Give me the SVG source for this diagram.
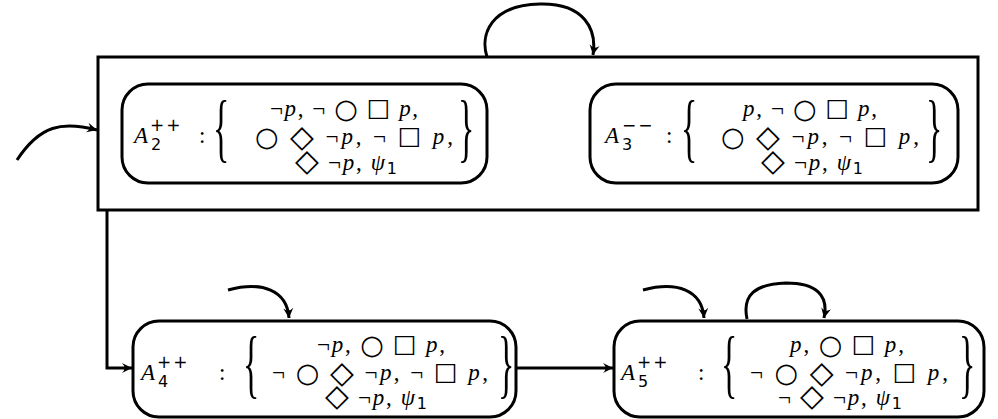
<svg xmlns="http://www.w3.org/2000/svg" width="998" height="419" viewBox="0 0 998 419">
<defs>
<marker id="ah" viewBox="-11 -6 12 12" refX="0" refY="0" markerWidth="12" markerHeight="12" markerUnits="userSpaceOnUse" orient="auto">
<path d="M0,0 L-10,-5 Q-5,0 -10,5 Z" fill="#000"/>
</marker>
<style>
.frame{fill:#fff;stroke:#000;stroke-width:3}
.st{fill:#fff;stroke:#000;stroke-width:3}
.edge{fill:none;stroke:#000;stroke-width:3;marker-end:url(#ah)}
.t{font-family:"Liberation Serif","DejaVu Serif",serif;font-size:23px;fill:#000}
.it{font-style:italic}
.ci{font-family:"DejaVu Sans",sans-serif;font-size:27px}
.sq{font-family:"DejaVu Sans",sans-serif;font-size:25px}
.di{font-family:"DejaVu Sans",sans-serif;font-size:31px}
.ss{font-family:"DejaVu Sans","Liberation Sans",sans-serif;font-size:16px;fill:#000}
.sp{font-family:"DejaVu Sans","Liberation Sans",sans-serif;font-size:17px;letter-spacing:2px;fill:#000}
.br{font-family:"Liberation Serif","DejaVu Serif",serif;font-size:34px;fill:#000}
</style>
</defs>
<g id="outer">
<rect class="frame" x="98" y="57" width="880" height="153"/>
</g>
<g id="A2">
<rect class="st" x="122" y="84" width="365" height="99" rx="26"/>
<text class="t it" x="134" y="143">A</text>
<text class="sp" x="150" y="131">++</text>
<text class="ss" x="151" y="150">2</text>
<text class="t" x="199" y="143">:</text>
<text class="br" transform="translate(213,134.5) scale(1,2.25)" y="8">{</text>
<text class="br" transform="translate(458,134.5) scale(1,2.25)" y="8">}</text>
<text class="t" x="270" y="116" textLength="148" lengthAdjust="spacing">¬<tspan class="it">p</tspan>, ¬ <tspan class="ci" dy="2">○</tspan> <tspan class="sq" dy="-2">□</tspan> <tspan class="it">p</tspan>,</text>
<text class="t" x="255" y="144" textLength="198" lengthAdjust="spacing"><tspan class="ci" dy="2">○</tspan> <tspan class="di" dy="1">◇</tspan> <tspan dy="-3">¬</tspan><tspan class="it">p</tspan>, ¬ <tspan class="sq">□</tspan> <tspan class="it">p</tspan>,</text>
<text class="t" x="295" y="170" textLength="102" lengthAdjust="spacing"><tspan class="di" dy="1">◇</tspan> <tspan dy="-1">¬</tspan><tspan class="it">p</tspan>, <tspan class="it">ψ</tspan><tspan class="ss" dy="4">1</tspan></text>
</g>
<g id="A3">
<rect class="st" x="590" y="84" width="368" height="99" rx="26"/>
<text class="t it" x="605" y="143">A</text>
<text class="sp" x="622" y="131">−−</text>
<text class="ss" x="622" y="150">3</text>
<text class="t" x="666" y="143">:</text>
<text class="br" transform="translate(681,134.5) scale(1,2.25)" y="8">{</text>
<text class="br" transform="translate(926,134.5) scale(1,2.25)" y="8">}</text>
<text class="t" x="743" y="116" textLength="134" lengthAdjust="spacing"><tspan class="it">p</tspan>, ¬ <tspan class="ci" dy="2">○</tspan> <tspan class="sq" dy="-2">□</tspan> <tspan class="it">p</tspan>,</text>
<text class="t" x="721" y="144" textLength="198" lengthAdjust="spacing"><tspan class="ci" dy="2">○</tspan> <tspan class="di" dy="1">◇</tspan> <tspan dy="-3">¬</tspan><tspan class="it">p</tspan>, ¬ <tspan class="sq">□</tspan> <tspan class="it">p</tspan>,</text>
<text class="t" x="761" y="170" textLength="102" lengthAdjust="spacing"><tspan class="di" dy="1">◇</tspan> <tspan dy="-1">¬</tspan><tspan class="it">p</tspan>, <tspan class="it">ψ</tspan><tspan class="ss" dy="4">1</tspan></text>
</g>
<g id="A4">
<rect class="st" x="133" y="321" width="383" height="96" rx="26"/>
<text class="t it" x="141" y="380">A</text>
<text class="sp" x="157" y="368">++</text>
<text class="ss" x="158" y="387">4</text>
<text class="t" x="219" y="380">:</text>
<text class="br" transform="translate(243,371) scale(1,2.25)" y="8">{</text>
<text class="br" transform="translate(498,371) scale(1,2.25)" y="8">}</text>
<text class="t" x="317" y="352" textLength="128" lengthAdjust="spacing">¬<tspan class="it">p</tspan>, <tspan class="ci" dy="2">○</tspan> <tspan class="sq" dy="-2">□</tspan> <tspan class="it">p</tspan>,</text>
<text class="t" x="272" y="380" textLength="216" lengthAdjust="spacing">¬ <tspan class="ci" dy="2">○</tspan> <tspan class="di" dy="1">◇</tspan> <tspan dy="-3">¬</tspan><tspan class="it">p</tspan>, ¬ <tspan class="sq">□</tspan> <tspan class="it">p</tspan>,</text>
<text class="t" x="325" y="405" textLength="102" lengthAdjust="spacing"><tspan class="di" dy="1">◇</tspan> <tspan dy="-1">¬</tspan><tspan class="it">p</tspan>, <tspan class="it">ψ</tspan><tspan class="ss" dy="4">1</tspan></text>
</g>
<g id="A5">
<rect class="st" x="614" y="321" width="370" height="96" rx="26"/>
<text class="t it" x="621" y="380">A</text>
<text class="sp" x="637" y="368">++</text>
<text class="ss" x="638" y="387">5</text>
<text class="t" x="698" y="380">:</text>
<text class="br" transform="translate(721,371) scale(1,2.25)" y="8">{</text>
<text class="br" transform="translate(959,371) scale(1,2.25)" y="8">}</text>
<text class="t" x="790" y="352" textLength="114" lengthAdjust="spacing"><tspan class="it">p</tspan>, <tspan class="ci" dy="2">○</tspan> <tspan class="sq" dy="-2">□</tspan> <tspan class="it">p</tspan>,</text>
<text class="t" x="750" y="380" textLength="198" lengthAdjust="spacing">¬ <tspan class="ci" dy="2">○</tspan> <tspan class="di" dy="1">◇</tspan> <tspan dy="-3">¬</tspan><tspan class="it">p</tspan>, <tspan class="sq">□</tspan> <tspan class="it">p</tspan>,</text>
<text class="t" x="778" y="405" textLength="124" lengthAdjust="spacing">¬ <tspan class="di" dy="1">◇</tspan> <tspan dy="-1">¬</tspan><tspan class="it">p</tspan>, <tspan class="it">ψ</tspan><tspan class="ss" dy="4">1</tspan></text>
</g>
<g id="connectors">
<path class="edge" d="M17,160 C40,125 62,121 97,130"/>
<path class="edge" d="M487,57 C480,35 490,5 540,4 C585,3 597,30 593,55"/>
<path class="edge" d="M107,210 L107,368 L132,368"/>
<path class="edge" d="M228,290 C262,281 287,290 289,318"/>
<path class="edge" d="M516,368 L613,368"/>
<path class="edge" d="M643,290 C677,281 702,290 704,318"/>
<path class="edge" d="M747,319 C742,295 755,284 786,283 C816,283 829,295 824,318"/>
</g>
</svg>
